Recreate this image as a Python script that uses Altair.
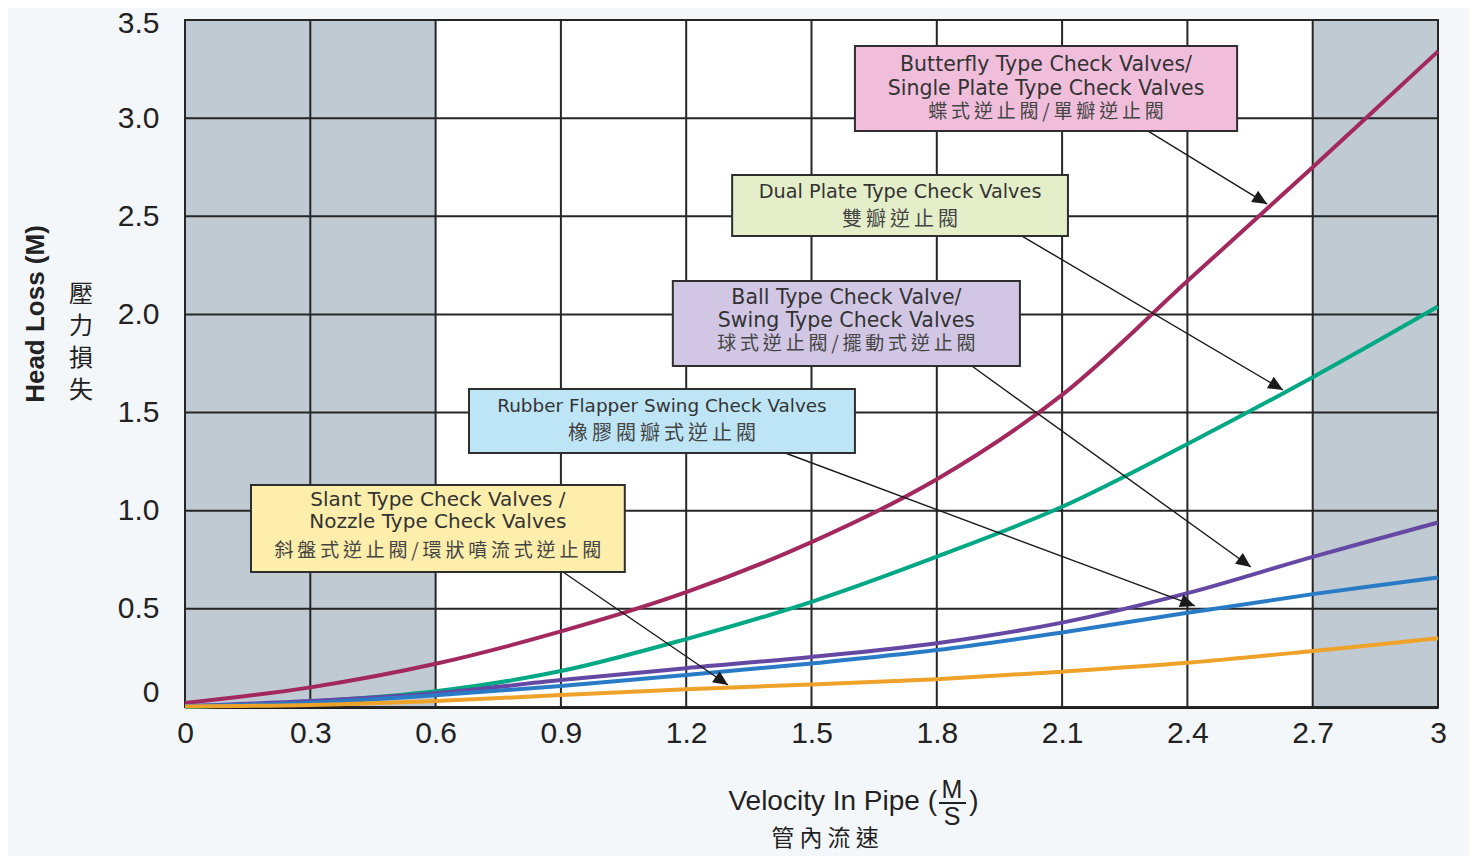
import math
import altair as alt
import pandas as pd

# ---------------- data ----------------
velocity = [0.0, 0.3, 0.6, 0.9, 1.2, 1.5, 1.8, 2.1, 2.4, 2.7, 3.0]

butterfly = [0.02, 0.10, 0.22, 0.385, 0.585, 0.84, 1.16, 1.59, 2.17, 2.75, 3.34]
dual_plate = [0.0, 0.027, 0.08, 0.183, 0.346, 0.536, 0.766, 1.02, 1.34, 1.68, 2.04]
ball_swing = [0.005, 0.03, 0.07, 0.137, 0.198, 0.255, 0.325, 0.43, 0.58, 0.765, 0.94]
rubber_flapper = [0.005, 0.022, 0.06, 0.107, 0.163, 0.222, 0.29, 0.38, 0.48, 0.575, 0.66]
slant_nozzle = [0.003, 0.01, 0.03, 0.061, 0.09, 0.115, 0.142, 0.18, 0.225, 0.285, 0.35]

series_names = ["Butterfly", "Dual Plate", "Ball/Swing", "Rubber Flapper", "Slant/Nozzle"]
series_values = [butterfly, dual_plate, ball_swing, rubber_flapper, slant_nozzle]
series_colors = ["#a2285e", "#00a884", "#6548a3", "#2a7bc6", "#eea22a"]

x_ticks = [0, 0.3, 0.6, 0.9, 1.2, 1.5, 1.8, 2.1, 2.4, 2.7, 3]
y_ticks = [0, 0.5, 1.0, 1.5, 2.0, 2.5, 3.0, 3.5]

shade_start = [0.0, 2.7]
shade_end = [0.6, 3.0]

# annotation boxes (data coordinates)
box_x1 = [1.604, 1.310, 1.168, 0.680, 0.158]
box_x2 = [2.519, 2.114, 1.999, 1.604, 1.053]
box_y1 = [3.367, 2.710, 2.170, 1.620, 1.131]
box_y2 = [2.934, 2.399, 1.737, 1.294, 0.688]
box_fill = ["#f0bedb", "#e4efc9", "#d1c7e5", "#bde5f6", "#fdeeab"]
box_en_size = [20.5, 19.3, 20.5, 18.4, 20]
box_cjk_size = [19, 20, 19, 20, 19]

# label lines
label_box = [0, 0, 0, 1, 1, 2, 2, 2, 3, 3, 4, 4, 4]
label_y = [3.270, 3.148, 3.031, 2.624, 2.481, 2.084, 1.966, 1.849, 1.533, 1.390, 1.054, 0.942, 0.795]
label_text = [
    "Butterfly Type Check Valves/",
    "Single Plate Type Check Valves",
    "蝶式逆止閥/單瓣逆止閥",
    "Dual Plate Type Check Valves",
    "雙瓣逆止閥",
    "Ball Type Check Valve/",
    "Swing Type Check Valves",
    "球式逆止閥/擺動式逆止閥",
    "Rubber Flapper Swing Check Valves",
    "橡膠閥瓣式逆止閥",
    "Slant Type Check Valves /",
    "Nozzle Type Check Valves",
    "斜盤式逆止閥/環狀噴流式逆止閥",
]
label_cjk = [False, False, True, False, True, False, False, True, False, True, False, False, True]

# arrows: start (box edge) -> tip (on the curve)
arrow_x1 = [2.306, 2.004, 1.884, 1.437, 0.905]
arrow_y1 = [2.934, 2.399, 1.737, 1.294, 0.688]
arrow_x2 = [2.591, 2.629, 2.552, 2.418, 1.300]
arrow_y2 = [2.562, 1.615, 0.713, 0.515, 0.112]

# ---------------- layout ----------------
W, H = 1253, 687
X_MAX, Y_MAX = 3.0, 3.5
sx, sy = W / X_MAX, H / Y_MAX

curve_rows = []
for name, vals in zip(series_names, series_values):
    for v, h in zip(velocity, vals):
        curve_rows.append({"series": name, "velocity": v, "head": h})
curves = pd.DataFrame(curve_rows)

shade = pd.DataFrame({"x1": shade_start, "x2": shade_end})
vgrid = pd.DataFrame({"x": x_ticks})
hgrid = pd.DataFrame({"y": y_ticks})

boxes = pd.DataFrame({"x1": box_x1, "x2": box_x2, "y1": box_y1, "y2": box_y2, "fill": box_fill})
labels = pd.DataFrame({
    "x": [(box_x1[b] + box_x2[b]) / 2 for b in label_box],
    "y": label_y,
    "text": ["\u2009".join(t) if c else t for t, c in zip(label_text, label_cjk)],
    "cjk": label_cjk,
    "fs": [box_cjk_size[b] if c else box_en_size[b] for b, c in zip(label_box, label_cjk)],
})

angles = []
for a, b, c, d in zip(arrow_x1, arrow_y1, arrow_x2, arrow_y2):
    dx = (c - a) * sx
    dy = -(d - b) * sy  # screen y grows downward
    angles.append(math.degrees(math.atan2(dx, -dy)) % 360)
arrows = pd.DataFrame({"x1": arrow_x1, "y1": arrow_y1, "x2": arrow_x2, "y2": arrow_y2, "angle": angles})

xscale = alt.Scale(domain=[0, X_MAX], nice=False, zero=False)
yscale = alt.Scale(domain=[0, Y_MAX], nice=False, zero=False)

x_axis = alt.Axis(
    values=x_ticks, format="~g", title=None, grid=False, ticks=False,
    labelFont="Liberation Sans", labelFontSize=30, labelColor="#222222",
    labelPadding=11, labelFlush=False, domainColor="#1a1a1a", domainWidth=3,
)
y_axis = alt.Axis(
    values=y_ticks, title=None, grid=False, ticks=False,
    labelExpr="datum.value == 0 ? '0' : format(datum.value, '.1f')",
    labelBaseline={"condition": {"test": "datum.value == 0", "value": "bottom"}, "value": "middle"},
    labelOffset={"condition": {"test": "datum.value == 3.5", "value": 3}, "value": 0},
    labelFont="Liberation Sans", labelFontSize=30, labelColor="#222222",
    labelPadding=26, labelFlush=False, domainColor="#1a1a1a", domainWidth=2,
)


def X(field):
    return alt.X(field, type="quantitative", scale=xscale, axis=x_axis)


def Y(field):
    return alt.Y(field, type="quantitative", scale=yscale, axis=y_axis)


GRID = "#262626"
TEXT = "#333333"

shade_layer = alt.Chart(shade).mark_rect(color="#bfcad2").encode(
    x=X("x1"), x2="x2:Q", y=alt.value(0), y2=alt.value(H),
)

vgrid_layer = alt.Chart(vgrid).mark_rule(color=GRID, strokeWidth=2).encode(x=X("x"))
hgrid_layer = alt.Chart(hgrid).mark_rule(color=GRID, strokeWidth=2).encode(y=Y("y"))

curve_layer = alt.Chart(curves).mark_line(strokeWidth=4, interpolate="catmull-rom").encode(
    x=X("velocity"),
    y=Y("head"),
    color=alt.Color("series:N", scale=alt.Scale(domain=series_names, range=series_colors), legend=None),
    detail="series:N",
)

arrow_line_layer = alt.Chart(arrows).mark_rule(color="#1a1a1a", strokeWidth=1.4).encode(
    x=X("x1"), y=Y("y1"), x2="x2:Q", y2="y2:Q",
)

arrow_head_layer = alt.Chart(arrows).mark_point(
    shape="M0,0L-0.5,1.1L0.5,1.1Z", filled=True, color="#1a1a1a", size=720, opacity=1
).encode(
    x=X("x2"), y=Y("y2"), angle=alt.Angle("angle:Q", scale=None),
)

box_layer = alt.Chart(boxes).mark_rect(stroke="#2e2e2e", strokeWidth=2).encode(
    x=X("x1"), x2="x2:Q", y=Y("y1"), y2="y2:Q",
    fill=alt.Fill("fill:N", scale=None),
)

en_text_layer = alt.Chart(labels).transform_filter("!datum.cjk").mark_text(
    font="DejaVu Sans", color=TEXT, align="center", baseline="middle"
).encode(
    x=X("x"), y=Y("y"), text="text:N", size=alt.Size("fs:Q", scale=None),
)

cjk_text_layer = alt.Chart(labels).transform_filter("datum.cjk").mark_text(
    font="Noto Sans CJK TC", color="#444444", align="center", baseline="middle"
).encode(
    x=X("x"), y=Y("y"), text="text:N", size=alt.Size("fs:Q", scale=None),
)

one = pd.DataFrame({"k": [0]})

ytitle = alt.Chart(one).mark_text(
    text="Head Loss (M)", font="Liberation Sans", fontWeight="bold", fontSize=26,
    color="#222222", angle=270, align="center", baseline="middle",
).encode(x=alt.value(-149), y=alt.value(294))

ytitle_cjk = alt.Chart(one).mark_text(
    text=["壓", "力", "損", "失"], font="Noto Sans CJK TC", fontSize=24, lineHeight=32,
    color="#222222", align="center", baseline="middle",
).encode(x=alt.value(-104), y=alt.value(275))

xtitle = alt.Chart(one).mark_text(
    text="Velocity In Pipe (", font="Liberation Sans", fontSize=28, color="#222222",
    align="right", baseline="middle",
).encode(x=alt.value(752), y=alt.value(782))

xtitle_m = alt.Chart(one).mark_text(
    text="M", font="Liberation Sans", fontSize=25, color="#222222", align="center", baseline="middle",
).encode(x=alt.value(767), y=alt.value(770))

xtitle_s = alt.Chart(one).mark_text(
    text="S", font="Liberation Sans", fontSize=25, color="#222222", align="center", baseline="middle",
).encode(x=alt.value(767), y=alt.value(797))

xtitle_close = alt.Chart(one).mark_text(
    text=")", font="Liberation Sans", fontSize=28, color="#222222", align="center", baseline="middle",
).encode(x=alt.value(789), y=alt.value(782))

frac_line = alt.Chart(one).mark_rule(color="#222222", strokeWidth=2).encode(
    x=alt.value(754), x2=alt.value(781), y=alt.value(783), y2=alt.value(783)
)

xtitle_cjk = alt.Chart(one).mark_text(
    text="管   內   流   速", font="Noto Sans CJK TC", fontSize=23, color="#222222",
    align="center", baseline="middle",
).encode(x=alt.value(640), y=alt.value(819))

chart = alt.layer(
    shade_layer, vgrid_layer, hgrid_layer, curve_layer,
    arrow_line_layer, arrow_head_layer, box_layer, en_text_layer, cjk_text_layer,
    ytitle, ytitle_cjk, xtitle, xtitle_m, xtitle_s, xtitle_close, frac_line, xtitle_cjk,
).properties(
    width=W,
    height=H,
    autosize=alt.AutoSizeParams(type="none"),
    padding={"left": 177, "top": 12, "right": 31, "bottom": 149},
    background="#f4f7fa",
).configure_view(
    fill="white", stroke=GRID, strokeWidth=2
)

chart.save("out.html", embed_options={"renderer": "svg", "actions": False})
